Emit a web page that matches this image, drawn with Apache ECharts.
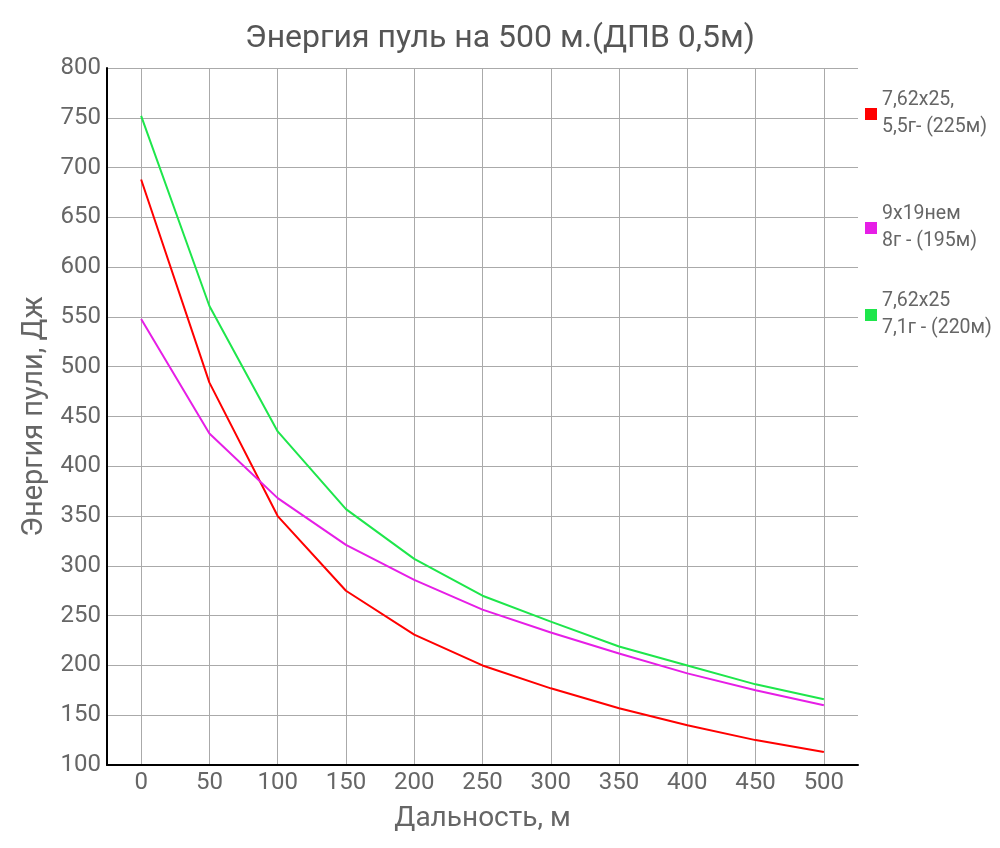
<!DOCTYPE html>
<html>
<head>
<meta charset="utf-8">
<script src="https://cdn.jsdelivr.net/npm/echarts@6/dist/echarts.min.js"></script>
<style>
  html, body { margin: 0; padding: 0; background: #fff; }
  #main { width: 1000px; height: 848px; }
</style>
</head>
<body>
<div id="main"></div>
<script>
// дальность, м
var distances = ['0', '50', '100', '150', '200', '250', '300', '350', '400', '450', '500'];
var seriesNames = ['7,62x25,\n5,5г- (225м)', '9x19нем\n8г - (195м)', '7,62x25\n7,1г - (220м)'];
var red = [688, 484, 350, 275, 231, 200, 177, 157, 140, 125, 113];
var magenta = [548, 433, 368, 321, 286, 256, 233, 212, 192, 175, 160];
var green = [752, 561, 435, 357, 307, 270, 244, 219, 200, 181, 166];
var colors = ['#ff0000', '#e61ee6', '#1ee64b'];

var chart = echarts.init(document.getElementById('main'));
var font = 'Roboto, "Noto Sans", sans-serif';

function legendAt(name, top) {
    return {
        data: [name],
        orient: 'vertical',
        left: 860,
        top: top,
        itemWidth: 12,
        itemHeight: 12,
        icon: 'rect',
        itemGap: 4,
        textStyle: { fontFamily: font, fontSize: 19.5, color: '#666', lineHeight: 27 }
    };
}

var option = {
    backgroundColor: '#fff',
    animation: false,
    color: colors,
    title: {
        text: 'Энергия пуль на 500 м.(ДПВ 0,5м)',
        left: 'center',
        top: 18,
        textStyle: { fontFamily: font, fontSize: 32, fontWeight: 'normal', color: '#555' }
    },
    legend: [
        legendAt(seriesNames[0], 82),
        legendAt(seriesNames[1], 196),
        legendAt(seriesNames[2], 283)
    ],
    grid: { left: 107, right: 142, top: 68, bottom: 83 },
    xAxis: {
        type: 'category',
        data: distances,
        boundaryGap: true,
        name: 'Дальность, м',
        nameLocation: 'middle',
        nameGap: 40,
        nameTextStyle: { fontFamily: font, fontSize: 28, color: '#666' },
        axisLine: { lineStyle: { color: '#000', width: 2 } },
        axisTick: { show: false },
        axisLabel: { fontFamily: font, fontSize: 24, color: '#666', margin: 6 },
        splitLine: { show: true, alignWithLabel: true, lineStyle: { color: '#aaa', width: 1 } }
    },
    yAxis: {
        type: 'value',
        min: 100,
        max: 800,
        interval: 50,
        name: 'Энергия пули, Дж',
        nameLocation: 'middle',
        nameGap: 56,
        nameTextStyle: { fontFamily: font, fontSize: 29, color: '#666' },
        axisLine: { show: true, lineStyle: { color: '#000', width: 2 } },
        axisTick: { show: false },
        axisLabel: { fontFamily: font, fontSize: 24, color: '#666', margin: 6 },
        splitLine: { show: true, lineStyle: { color: '#aaa', width: 1 } }
    },
    series: [
        { name: seriesNames[0], type: 'line', data: red, showSymbol: false, lineStyle: { width: 2 } },
        { name: seriesNames[1], type: 'line', data: magenta, showSymbol: false, lineStyle: { width: 2 } },
        { name: seriesNames[2], type: 'line', data: green, showSymbol: false, lineStyle: { width: 2 } }
    ]
};
chart.setOption(option);
</script>
</body>
</html>
